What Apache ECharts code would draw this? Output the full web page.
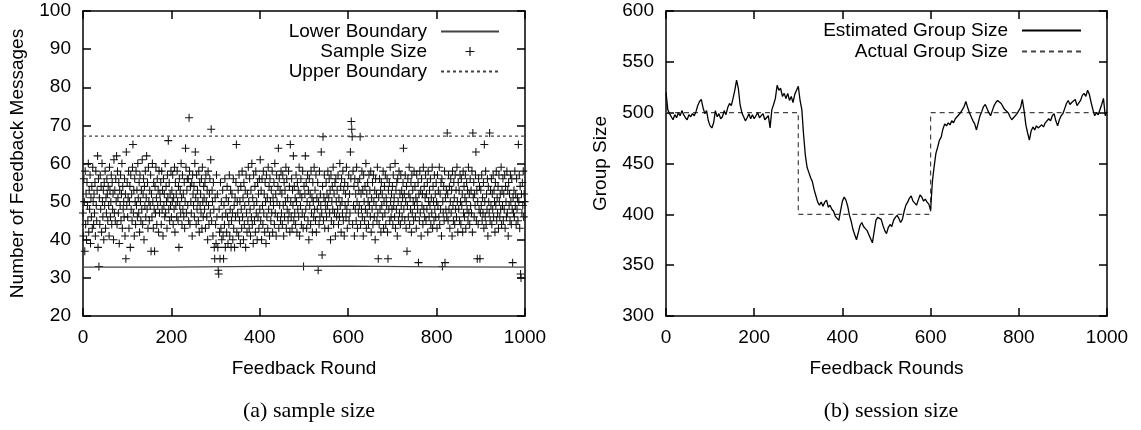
<!DOCTYPE html>
<html>
<head>
<meta charset="utf-8">
<script src="https://cdn.jsdelivr.net/npm/echarts@6/dist/echarts.min.js"></script>
<style>
html,body{margin:0;padding:0;background:#fff;}
#chart{width:1141px;height:430px;}
</style>
</head>
<body>
<div id="chart"></div>
<script>
// ---------- Panel (a): sample size ----------
// Number of feedback messages per feedback round (rounds 0..999)
const sampleSize = [
47,41,56,50,37,58,44,52,40,55,49,45,60,42,53,48,57,39,51,46,54,43,59,50,44,
52,47,55,41,58,49,45,53,62,38,56,33,51,44,57,48,54,42,60,50,46,53,40,55,49,
58,43,51,47,56,52,45,54,49,41,59,53,46,50,57,44,55,48,52,40,61,47,53,45,56,
50,62,44,58,51,47,55,39,53,49,57,45,52,60,43,54,48,50,46,56,41,52,35,63,49,
55,46,51,58,43,50,54,38,57,48,52,45,59,65,47,53,41,56,50,44,58,49,53,46,60,
51,47,55,42,57,50,45,53,48,61,44,52,56,40,54,49,58,46,51,62,48,55,43,59,50,
45,53,49,57,37,52,46,60,50,43,55,48,37,54,47,59,51,44,56,49,53,42,58,47,52,
50,55,44,58,48,53,41,56,49,52,46,60,47,54,50,43,57,51,66,48,55,45,52,49,58,
46,53,50,57,44,51,48,59,42,55,49,52,46,58,50,45,54,38,56,49,53,47,60,51,44,
57,48,52,46,55,43,50,64,59,47,53,56,49,56,45,72,58,44,54,50,47,55,41,57,52,
49,54,46,60,63,51,44,57,48,53,50,45,58,42,55,49,52,47,56,43,59,50,46,54,51,
48,55,43,57,50,46,53,40,58,49,44,52,56,47,61,69,45,53,50,41,55,48,38,35,51,
44,39,57,46,52,38,32,31,48,42,35,55,43,50,40,46,53,41,35,49,44,56,38,47,51,
42,54,46,39,50,44,57,41,48,53,38,45,52,47,40,56,43,49,38,51,46,55,65,42,50,
47,53,41,57,45,50,39,54,48,43,58,46,51,40,55,44,49,53,38,57,47,42,52,45,59,
50,43,56,48,41,53,46,60,44,51,39,57,49,45,54,42,58,47,50,40,55,46,52,43,56,
48,61,45,53,40,56,49,44,58,47,52,42,55,50,39,57,46,51,43,59,48,54,41,56,50,
45,53,47,58,42,51,49,55,44,60,47,52,41,57,50,46,54,64,43,56,49,53,45,58,47,
52,44,57,49,41,55,46,53,50,59,43,56,48,51,45,58,47,54,42,65,50,46,56,43,53,
49,62,45,54,47,51,44,57,50,42,55,48,53,46,59,41,52,49,56,44,51,47,58,43,33,
54,46,52,62,48,55,43,50,57,45,53,40,56,49,52,44,58,47,51,42,55,50,46,59,48,
53,45,57,42,51,48,55,32,50,44,58,46,52,49,63,47,36,54,67,45,51,57,43,50,48,
55,46,52,49,58,43,51,56,47,53,40,57,45,50,54,48,59,44,52,47,55,41,56,50,46,
53,48,57,44,51,46,60,49,54,42,56,50,47,58,45,53,41,55,49,52,46,59,48,43,54,
50,57,45,52,47,63,56,71,69,67,44,58,49,54,41,56,48,52,45,59,50,43,55,47,53,
49,56,67,44,52,48,58,46,53,41,57,50,45,54,48,60,43,52,47,55,50,44,57,49,53,
46,58,42,51,48,55,44,57,50,46,53,40,56,49,52,45,59,47,35,51,44,56,48,53,42,
55,49,52,46,58,43,50,54,47,57,44,51,49,56,42,35,53,48,55,45,59,50,46,52,48,
54,44,57,49,51,46,60,43,53,48,55,41,56,50,45,58,47,52,44,57,49,53,46,51,55,
64,48,52,45,57,50,43,54,37,49,56,46,52,59,44,51,48,55,42,57,47,53,50,45,58,
49,54,46,51,43,57,50,48,55,34,52,45,58,47,53,41,56,49,52,44,59,48,54,46,51,
57,45,52,48,55,42,58,50,46,53,49,56,44,51,47,59,43,54,50,45,57,48,52,46,55,
50,43,57,49,53,46,59,44,52,48,55,41,56,33,50,47,54,45,58,34,51,48,53,46,68,
52,45,57,48,54,43,50,56,47,53,41,58,49,45,55,51,44,57,48,53,46,59,50,42,55,
48,53,45,57,50,44,56,49,52,42,58,47,54,46,51,57,43,50,55,48,53,45,59,47,52,
44,56,49,53,47,58,42,68,51,55,46,52,49,57,63,45,53,35,50,44,56,48,54,35,47,
53,49,57,45,51,47,55,43,65,50,46,58,44,52,48,56,41,54,50,47,68,45,53,49,56,
44,52,48,57,46,53,50,42,55,49,58,45,51,47,54,43,57,50,46,52,48,59,44,53,49,
56,45,52,48,57,43,54,50,46,58,47,53,41,55,49,52,45,57,50,44,56,48,34,51,47,
53,46,58,49,52,44,56,48,51,45,65,50,57,43,54,31,30,52,47,55,49,58,46,52,50
];
const lowerRounds = [0, 200, 400, 600, 800, 1000];
const lowerBoundary = [32.8, 32.8, 33.0, 33.1, 32.9, 32.8];
const upperRounds = [0, 1000];
const upperBoundary = [67.2, 67.2];
const xTicksA = [0, 200, 400, 600, 800, 1000];
const yTicksA = [20, 30, 40, 50, 60, 70, 80, 90, 100];

// ---------- Panel (b): session size ----------
// Estimated group size, sampled every 4 feedback rounds (0..1000)
const estimatedSize = [
520,503,499,496,493,498,495,500,497,502,498,495,493,498,496,499,497,501,507,511,
513,505,499,502,492,487,485,490,502,496,499,494,496,502,498,505,509,507,514,522,
532,524,508,500,496,492,495,499,494,498,494,497,500,495,496,499,493,494,497,485,
503,508,514,527,522,524,516,519,514,519,512,516,510,518,522,526,512,503,478,458,
446,441,436,432,424,418,412,409,412,408,412,414,407,409,405,403,398,397,394,404,
413,417,414,408,399,393,385,380,375,382,389,392,388,386,384,380,376,372,383,394,
397,396,395,389,384,381,387,390,388,394,397,399,396,392,395,403,409,412,416,418,
413,411,409,414,419,417,413,415,412,410,404,432,447,460,466,473,476,484,489,487,
490,488,492,490,494,493,498,500,503,506,511,505,500,496,492,489,483,490,497,501,
506,508,504,500,497,502,507,510,512,513,509,506,503,504,500,496,493,494,497,499,
500,505,513,502,488,480,473,482,486,483,487,485,484,488,486,490,489,494,492,497,
499,492,487,493,497,499,504,509,512,508,510,509,513,507,506,512,517,519,516,522,
518,510,503,497,500,498,499,508,514,497,501
];
const estimatedStep = 4;
const actualRounds = [0, 300, 300, 600, 600, 1000];
const actualSize = [500, 500, 400, 400, 500, 500];
const xTicksB = [0, 200, 400, 600, 800, 1000];
const yTicksB = [300, 350, 400, 450, 500, 550, 600];

// ---------- Text ----------
const captionA = '(a) sample size';
const captionB = '(b) session size';

const FONT = 'Liberation Sans, Arial, Helvetica, sans-serif';
const PLUS = 'path://M0,4.35H10V5.65H0Z M4.35,0H5.65V10H4.35Z';

const chart = echarts.init(document.getElementById('chart'), null, {renderer: 'canvas'});

function axisBase(min, max, interval, extra) {
  return Object.assign({
    type: 'value', min: min, max: max, interval: interval,
    axisLine: {show: true, onZero: false, lineStyle: {color: '#000', width: 1.5}},
    axisTick: {show: true, inside: true, length: 8, lineStyle: {color: '#000', width: 1.5}},
    splitLine: {show: false},
    axisLabel: {show: true, color: '#000', fontSize: 19, fontFamily: FONT, margin: 12,
                formatter: function (v) { return String(v); }},
    nameTextStyle: {color: '#000', fontSize: 19, fontFamily: FONT}
  }, extra);
}
function mirror(min, max, interval, extra) {
  const a = axisBase(min, max, interval, extra);
  a.axisLabel = {show: false};
  return a;
}
const noSym = {opacity: 0, color: 'rgba(0,0,0,0)', borderWidth: 0};

const option = {
  animation: false,
  backgroundColor: '#fff',
  title: [
    {text: captionA, left: 304, top: 395, textAlign: 'center',
     textStyle: {fontFamily: 'Liberation Serif, serif', fontWeight: 'normal', fontSize: 22, color: '#000'}},
    {text: captionB, left: 886, top: 395, textAlign: 'center',
     textStyle: {fontFamily: 'Liberation Serif, serif', fontWeight: 'normal', fontSize: 22, color: '#000'}}
  ],
  legend: [
    {
      data: [
        {name: 'Lower Boundary', itemStyle: noSym},
        {name: 'Sample Size'},
        {name: 'Upper Boundary', itemStyle: noSym}
      ],
      orient: 'vertical', align: 'right', right: 636, top: 17,
      itemWidth: 58, itemHeight: 9, itemGap: 1,
      textStyle: {color: '#000', fontSize: 19, fontFamily: FONT, padding: [0, 9, 0, 0]},
      selectedMode: false
    },
    {
      data: [
        {name: 'Estimated Group Size', itemStyle: noSym},
        {name: 'Actual Group Size', itemStyle: noSym}
      ],
      orient: 'vertical', align: 'right', right: 54, top: 16,
      itemWidth: 59, itemHeight: 9, itemGap: 2,
      textStyle: {color: '#000', fontSize: 19, fontFamily: FONT, padding: [0, 9, 0, 0]},
      selectedMode: false
    }
  ],
  grid: [
    {left: 83, top: 11, width: 442, height: 305, containLabel: false},
    {left: 666, top: 11, width: 441, height: 305, containLabel: false}
  ],
  xAxis: [
    axisBase(xTicksA[0], xTicksA[xTicksA.length - 1], xTicksA[1] - xTicksA[0],
      {gridIndex: 0, position: 'bottom', name: 'Feedback Round', nameLocation: 'middle', nameGap: 43}),
    mirror(xTicksA[0], xTicksA[xTicksA.length - 1], xTicksA[1] - xTicksA[0], {gridIndex: 0, position: 'top'}),
    axisBase(xTicksB[0], xTicksB[xTicksB.length - 1], xTicksB[1] - xTicksB[0],
      {gridIndex: 1, position: 'bottom', name: 'Feedback Rounds', nameLocation: 'middle', nameGap: 43}),
    mirror(xTicksB[0], xTicksB[xTicksB.length - 1], xTicksB[1] - xTicksB[0], {gridIndex: 1, position: 'top'})
  ],
  yAxis: [
    axisBase(yTicksA[0], yTicksA[yTicksA.length - 1], yTicksA[1] - yTicksA[0],
      {gridIndex: 0, position: 'left', name: 'Number of Feedback Messages', nameLocation: 'middle', nameGap: 56}),
    mirror(yTicksA[0], yTicksA[yTicksA.length - 1], yTicksA[1] - yTicksA[0], {gridIndex: 0, position: 'right'}),
    axisBase(yTicksB[0], yTicksB[yTicksB.length - 1], yTicksB[1] - yTicksB[0],
      {gridIndex: 1, position: 'left', name: 'Group Size', nameLocation: 'middle', nameGap: 56}),
    mirror(yTicksB[0], yTicksB[yTicksB.length - 1], yTicksB[1] - yTicksB[0], {gridIndex: 1, position: 'right'})
  ],
  series: [
    {
      name: 'Lower Boundary', type: 'line', xAxisIndex: 0, yAxisIndex: 0,
      data: lowerRounds.map((r, i) => [r, lowerBoundary[i]]),
      symbol: 'none', lineStyle: {color: '#444', width: 1.2}, itemStyle: {color: '#444'}
    },
    {
      name: 'Sample Size', type: 'scatter', xAxisIndex: 0, yAxisIndex: 0,
      data: sampleSize.map((v, i) => [i, v]),
      symbol: PLUS, symbolSize: 8, symbolKeepAspect: true,
      itemStyle: {color: '#111', opacity: 1},
      large: false
    },
    {
      name: 'Upper Boundary', type: 'line', xAxisIndex: 0, yAxisIndex: 0,
      data: upperRounds.map((r, i) => [r, upperBoundary[i]]),
      symbol: 'none', lineStyle: {color: '#444', width: 1.2, type: [3, 3]}, itemStyle: {color: '#444'}
    },
    {
      name: 'Estimated Group Size', type: 'line', xAxisIndex: 2, yAxisIndex: 2,
      data: estimatedSize.map((v, i) => [i * estimatedStep, v]),
      symbol: 'none', lineStyle: {color: '#000', width: 1.3}, itemStyle: {color: '#000'}, z: 3
    },
    {
      name: 'Actual Group Size', type: 'line', xAxisIndex: 2, yAxisIndex: 2,
      data: actualRounds.map((r, i) => [r, actualSize[i]]),
      symbol: 'none', lineStyle: {color: '#444', width: 1.2, type: [5, 4]}, itemStyle: {color: '#444'}, z: 2
    }
  ]
};
chart.setOption(option);
</script>
</body>
</html>
